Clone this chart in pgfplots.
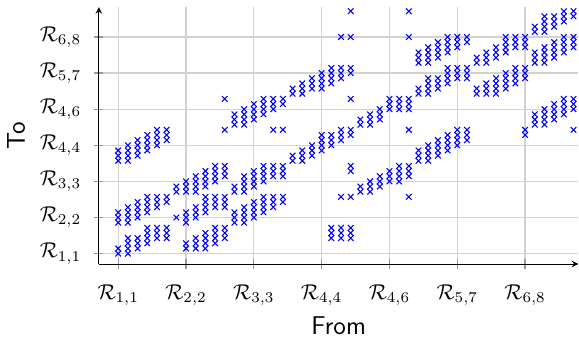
\documentclass[border=0pt]{standalone}
\usepackage{pgfplots}
\pgfplotsset{compat=1.18}
\begin{document}
\begin{tikzpicture}
\begin{axis}[
  scale only axis,
  width=224pt, height=120pt,
  axis lines=left,
  xmin=-2, xmax=47.5, ymin=-2, ymax=47.8,
  xtick={0,7,14,21,28,35,42},
  ytick={0,7,14,21,28,35,42},
  xticklabels={$\mathcal{R}_{1,1}$,$\mathcal{R}_{2,2}$,$\mathcal{R}_{3,3}$,$\mathcal{R}_{4,4}$,$\mathcal{R}_{4,6}$,$\mathcal{R}_{5,7}$,$\mathcal{R}_{6,8}$},
  yticklabels={$\mathcal{R}_{1,1}$,$\mathcal{R}_{2,2}$,$\mathcal{R}_{3,3}$,$\mathcal{R}_{4,4}$,$\mathcal{R}_{4,6}$,$\mathcal{R}_{5,7}$,$\mathcal{R}_{6,8}$},
  grid=major,
  major grid style={gray!35, line width=0.6pt},
  tick style={gray!80, line width=0.6pt},
  tick align=center,
  yticklabel style={xshift=-2.6pt},
  xticklabel style={yshift=-4pt},
  xlabel={\large\sffamily From}, ylabel={\large\sffamily To},
  xlabel style={yshift=1.5pt},
]
\addplot[only marks, mark=x, blue, mark size=1.85pt, line width=0.5pt] coordinates {
(0,0)(0,1)(0,6)(0,7)(0,8)(0,18)(0,19)(0,20)
(1,0)(1,1)(1,2)(1,3)(1,6)(1,7)(1,8)(1,9)(1,18)(1,19)(1,20)(1,21)
(2,1)(2,2)(2,3)(2,7)(2,8)(2,9)(2,10)(2,19)(2,20)(2,21)(2,22)
(3,2)(3,3)(3,4)(3,5)(3,8)(3,9)(3,10)(3,11)(3,20)(3,21)(3,22)(3,23)
(4,3)(4,4)(4,5)(4,9)(4,10)(4,11)(4,21)(4,22)(4,23)(4,24)
(5,3)(5,4)(5,5)(5,10)(5,11)(5,22)(5,23)(5,24)
(6,7)(6,12)(6,13)
(7,1)(7,2)(7,6)(7,7)(7,8)(7,12)(7,13)(7,14)
(8,1)(8,2)(8,3)(8,7)(8,8)(8,9)(8,12)(8,13)(8,14)(8,15)
(9,1)(9,2)(9,3)(9,4)(9,8)(9,9)(9,10)(9,11)(9,13)(9,14)(9,15)(9,16)
(10,2)(10,3)(10,4)(10,5)(10,9)(10,10)(10,11)(10,14)(10,15)(10,16)(10,17)
(11,3)(11,4)(11,5)(11,9)(11,10)(11,11)(11,15)(11,16)(11,17)(11,24)(11,30)
(12,6)(12,7)(12,8)(12,12)(12,13)(12,25)(12,26)(12,27)
(13,6)(13,7)(13,8)(13,9)(13,12)(13,13)(13,14)(13,15)(13,25)(13,26)(13,27)(13,28)
(14,7)(14,8)(14,9)(14,10)(14,13)(14,14)(14,15)(14,16)(14,26)(14,27)(14,28)(14,29)
(15,8)(15,9)(15,10)(15,11)(15,14)(15,15)(15,16)(15,17)(15,27)(15,28)(15,29)(15,30)
(16,9)(16,10)(16,11)(16,15)(16,16)(16,17)(16,24)(16,28)(16,29)(16,30)
(17,10)(17,11)(17,15)(17,16)(17,17)(17,24)(17,29)(17,30)
(18,18)(18,19)(18,31)(18,32)
(19,18)(19,19)(19,20)(19,31)(19,32)(19,33)
(20,19)(20,20)(20,21)(20,32)(20,33)(20,34)
(21,20)(21,21)(21,22)(21,23)(21,32)(21,33)(21,34)(21,35)
(22,3)(22,4)(22,5)(22,21)(22,22)(22,23)(22,33)(22,34)(22,35)(22,36)
(23,3)(23,4)(23,5)(23,11)(23,22)(23,23)(23,24)(23,34)(23,35)(23,36)(23,42)
(24,3)(24,4)(24,5)(24,11)(24,16)(24,17)(24,23)(24,24)(24,30)(24,35)(24,36)(24,42)(24,47)(24,48)
(25,12)(25,13)(25,25)(25,26)
(26,12)(26,13)(26,14)(26,25)(26,26)(26,27)
(27,13)(27,14)(27,15)(27,26)(27,27)(27,28)
(28,14)(28,15)(28,16)(28,28)(28,29)(28,30)
(29,14)(29,15)(29,16)(29,17)(29,28)(29,29)(29,30)
(30,11)(30,15)(30,16)(30,17)(30,24)(30,28)(30,29)(30,30)(30,42)(30,47)(30,48)
(31,18)(31,19)(31,20)(31,31)(31,32)(31,37)(31,38)(31,39)
(32,18)(32,19)(32,20)(32,21)(32,31)(32,32)(32,33)(32,34)(32,37)(32,38)(32,39)(32,40)
(33,19)(33,20)(33,21)(33,22)(33,32)(33,33)(33,34)(33,38)(33,39)(33,40)(33,41)
(34,20)(34,21)(34,22)(34,23)(34,33)(34,34)(34,35)(34,36)(34,39)(34,40)(34,41)(34,42)
(35,21)(35,22)(35,23)(35,24)(35,34)(35,35)(35,36)(35,40)(35,41)(35,42)
(36,22)(36,23)(36,24)(36,34)(36,35)(36,36)(36,41)(36,42)
(37,31)(37,32)(37,37)(37,38)
(38,31)(38,32)(38,33)(38,37)(38,38)(38,39)
(39,31)(39,32)(39,33)(39,34)(39,38)(39,39)(39,40)
(40,32)(40,33)(40,34)(40,35)(40,39)(40,40)(40,41)(40,42)
(41,33)(41,34)(41,35)(41,36)(41,40)(41,41)(41,42)
(42,23)(42,24)(42,34)(42,35)(42,36)(42,40)(42,41)(42,42)
(43,25)(43,26)(43,27)(43,37)(43,38)(43,39)(43,43)(43,44)
(44,25)(44,26)(44,27)(44,28)(44,37)(44,38)(44,39)(44,40)(44,43)(44,44)(44,45)(44,46)
(45,26)(45,27)(45,28)(45,29)(45,38)(45,39)(45,40)(45,41)(45,44)(45,45)(45,46)
(46,27)(46,28)(46,29)(46,30)(46,39)(46,40)(46,41)(46,42)(46,45)(46,46)(46,47)(46,48)
(47,24)(47,28)(47,29)(47,30)(47,40)(47,41)(47,42)(47,46)(47,47)(47,48)
};
\end{axis}
\path (current bounding box.north) ++(0,3pt);
\end{tikzpicture}
\end{document}
